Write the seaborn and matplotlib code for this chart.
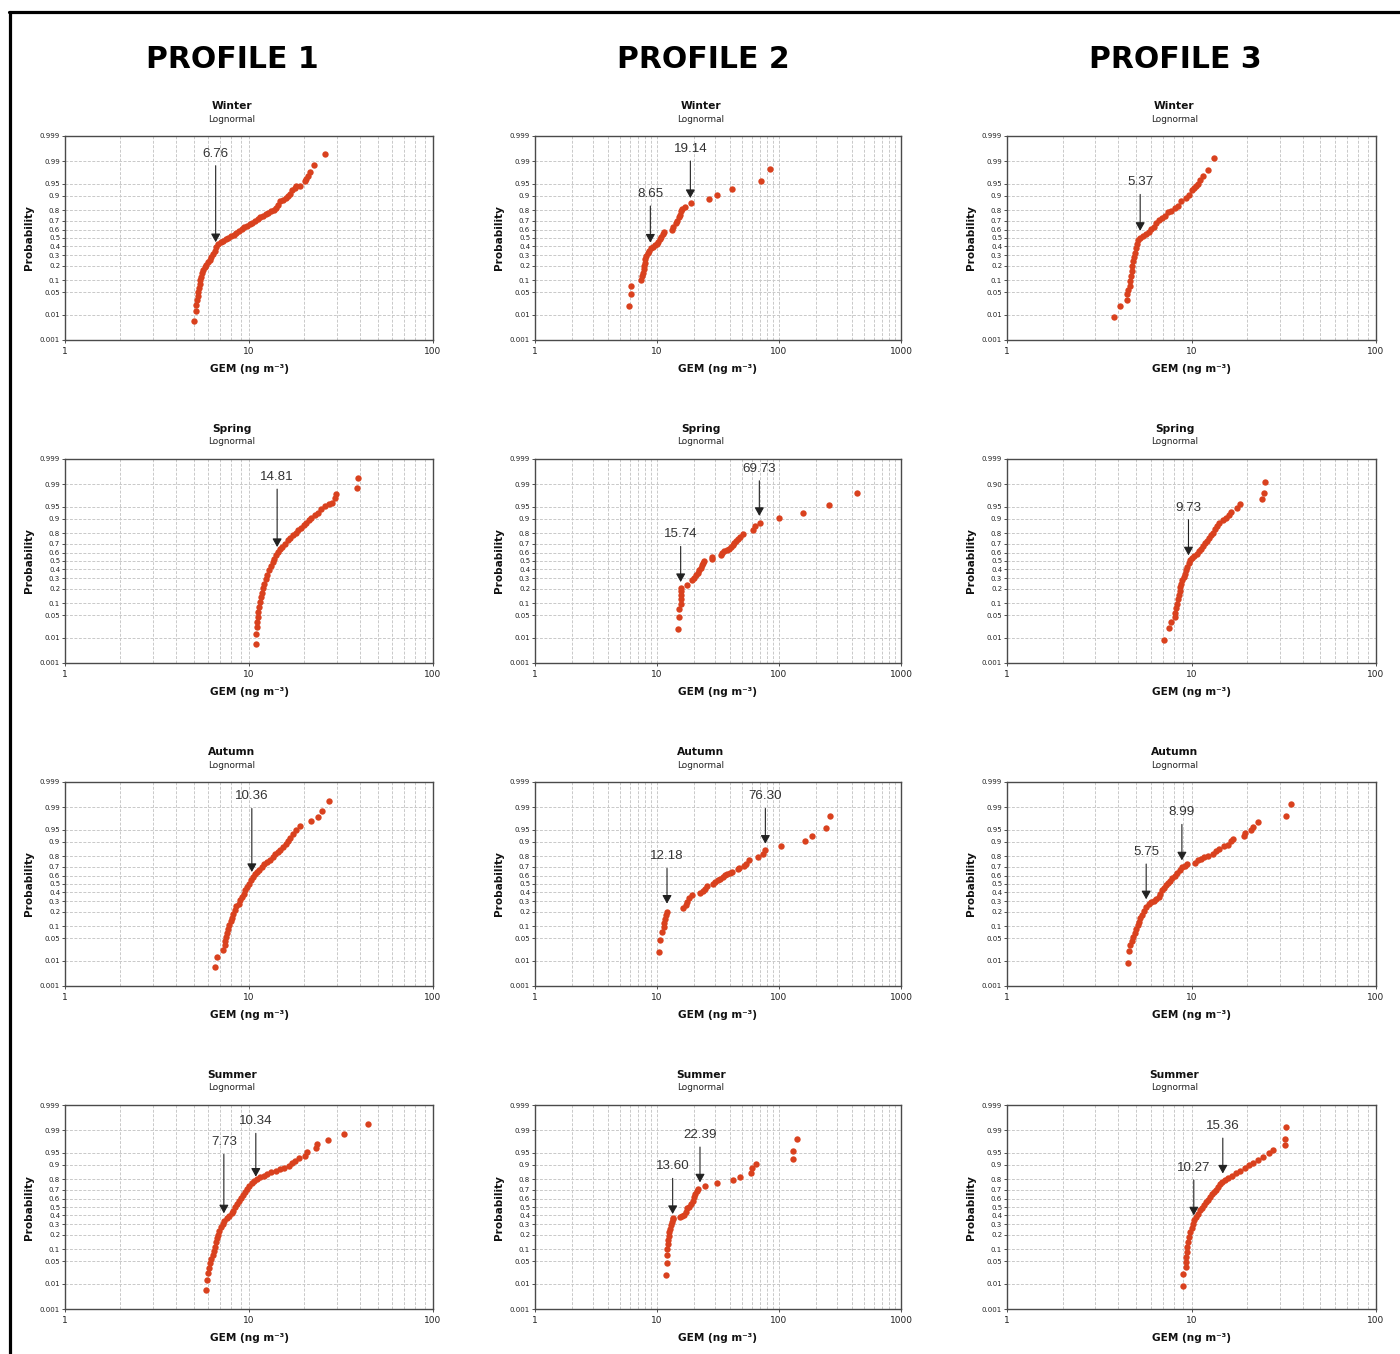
import math
import numpy as np
import pandas as pd
import matplotlib
matplotlib.use("Agg")
import matplotlib.pyplot as plt
from matplotlib.lines import Line2D
from matplotlib.ticker import FixedLocator, NullLocator, NullFormatter, FuncFormatter, LogLocator
import seaborn as sns

# ---------------- data (GEM concentration, cumulative probability) ----------------
profiles = ["PROFILE 1", "PROFILE 2", "PROFILE 3"]
seasons = ["Winter", "Spring", "Autumn", "Summer"]
x_max = [100, 1000, 100]

p1_winter_gem = [5.03, 5.14, 5.18, 5.22, 5.27, 5.31, 5.36, 5.40, 5.45, 5.49, 5.56, 5.65, 5.75, 5.87, 5.99, 6.12, 6.25, 6.38, 6.51, 6.65, 6.82, 7.02, 7.23, 7.47, 7.73, 7.99, 8.26, 8.54, 8.83, 9.13, 9.43, 9.75, 10.08, 10.42, 10.78, 11.14, 11.52, 11.91, 12.31, 12.73, 13.16, 13.61, 14.07, 14.43, 14.79, 15.29, 15.81, 16.28, 16.76, 17.18, 17.69, 18.06, 18.99, 20.05, 20.47, 20.90, 21.51, 22.52, 25.73]
p1_winter_prob = [0.006, 0.0136, 0.0218, 0.0303, 0.0406, 0.0523, 0.0653, 0.0823, 0.102, 0.121, 0.143, 0.167, 0.188, 0.211, 0.232, 0.254, 0.281, 0.316, 0.352, 0.390, 0.422, 0.446, 0.462, 0.482, 0.502, 0.526, 0.542, 0.558, 0.582, 0.610, 0.629, 0.644, 0.659, 0.677, 0.702, 0.719, 0.736, 0.749, 0.762, 0.774, 0.789, 0.803, 0.820, 0.838, 0.868, 0.877, 0.888, 0.896, 0.910, 0.925, 0.936, 0.941, 0.944, 0.958, 0.964, 0.969, 0.978, 0.987, 0.9943]
p1_winter_callouts = [("6.76", 6.59, 0.45, 0.9947)]

p2_winter_gem = [5.89, 6.12, 6.16, 7.44, 7.58, 7.68, 7.78, 7.87, 7.92, 8.02, 8.18, 8.39, 8.60, 8.88, 9.21, 9.63, 9.94, 10.25, 10.58, 10.85, 11.13, 11.41, 13.19, 13.61, 14.31, 14.68, 15.05, 15.44, 15.83, 16.13, 16.86, 18.88, 26.69, 31.22, 41.45, 71.2, 83.8]
p2_winter_prob = [0.0194, 0.0455, 0.0726, 0.0996, 0.125, 0.147, 0.171, 0.198, 0.228, 0.259, 0.294, 0.322, 0.348, 0.378, 0.398, 0.418, 0.433, 0.457, 0.486, 0.514, 0.547, 0.567, 0.594, 0.626, 0.671, 0.692, 0.734, 0.760, 0.790, 0.807, 0.824, 0.853, 0.880, 0.906, 0.930, 0.957, 0.982]
p2_winter_callouts = [("8.65", 8.82, 0.445, 0.909), ("19.14", 18.77, 0.887, 0.9965)]

p3_winter_gem = [3.81, 4.09, 4.45, 4.48, 4.54, 4.62, 4.66, 4.69, 4.73, 4.77, 4.81, 4.85, 4.91, 4.98, 5.06, 5.14, 5.27, 5.45, 5.68, 5.87, 6.05, 6.23, 6.44, 6.66, 6.88, 7.14, 7.44, 7.76, 8.09, 8.43, 8.76, 9.36, 9.75, 10.08, 10.29, 10.60, 10.87, 11.14, 11.52, 12.26, 13.32]
p3_winter_prob = [0.0082, 0.0204, 0.0312, 0.0435, 0.0560, 0.0726, 0.0960, 0.125, 0.160, 0.198, 0.244, 0.287, 0.329, 0.386, 0.433, 0.474, 0.506, 0.530, 0.547, 0.578, 0.606, 0.633, 0.671, 0.706, 0.727, 0.750, 0.781, 0.796, 0.818, 0.836, 0.867, 0.887, 0.906, 0.925, 0.935, 0.944, 0.949, 0.961, 0.969, 0.9806, 0.9923]
p3_winter_callouts = [("5.37", 5.27, 0.586, 0.954)]

p1_spring_gem = [10.89, 10.98, 11.07, 11.12, 11.17, 11.26, 11.36, 11.45, 11.60, 11.74, 11.94, 12.14, 12.35, 12.60, 12.87, 13.14, 13.42, 13.70, 13.99, 14.34, 14.70, 15.20, 15.72, 16.32, 16.80, 17.37, 17.96, 18.57, 19.28, 19.85, 20.52, 21.22, 21.85, 22.79, 23.75, 24.76, 25.81, 27.25, 28.41, 29.25, 29.87, 38.67, 38.99]
p1_spring_prob = [0.0060, 0.0135, 0.0222, 0.0323, 0.0448, 0.0611, 0.0817, 0.107, 0.138, 0.169, 0.207, 0.246, 0.289, 0.339, 0.389, 0.440, 0.488, 0.528, 0.568, 0.608, 0.638, 0.664, 0.700, 0.734, 0.757, 0.782, 0.805, 0.824, 0.841, 0.860, 0.877, 0.891, 0.904, 0.917, 0.929, 0.941, 0.952, 0.959, 0.961, 0.971, 0.979, 0.9865, 0.9940]
p1_spring_callouts = [("14.81", 14.22, 0.664, 0.9945)]

p2_spring_gem = [14.77, 15.05, 15.24, 15.63, 15.73, 15.83, 15.83, 15.83, 17.51, 19.24, 20.11, 20.87, 21.54, 22.10, 22.80, 23.53, 23.98, 24.43, 28.06, 28.42, 33.26, 34.32, 35.42, 37.24, 39.16, 40.44, 41.71, 43.05, 44.42, 45.84, 47.90, 50.37, 61.6, 63.97, 69.4, 100.6, 156.3, 257.0, 436.0]
p2_spring_prob = [0.0197, 0.0458, 0.0744, 0.098, 0.123, 0.149, 0.179, 0.207, 0.237, 0.279, 0.303, 0.332, 0.362, 0.389, 0.416, 0.448, 0.480, 0.496, 0.520, 0.544, 0.568, 0.596, 0.615, 0.630, 0.646, 0.668, 0.690, 0.711, 0.731, 0.751, 0.770, 0.793, 0.824, 0.853, 0.877, 0.904, 0.929, 0.956, 0.981]
p2_spring_callouts = [("15.74", 15.63, 0.262, 0.79), ("69.73", 69.0, 0.914, 0.9974)]

p3_spring_gem = [7.08, 7.54, 7.73, 8.12, 8.16, 8.23, 8.33, 8.43, 8.54, 8.61, 8.68, 8.79, 8.90, 9.05, 9.20, 9.36, 9.51, 9.67, 9.84, 10.08, 10.38, 10.69, 10.96, 11.23, 11.52, 11.81, 12.11, 12.41, 12.73, 13.05, 13.38, 13.72, 14.06, 14.78, 15.41, 16.06, 16.47, 17.60, 18.35, 24.04, 24.65, 24.96]
p3_spring_prob = [0.0083, 0.0212, 0.0323, 0.0439, 0.0587, 0.0772, 0.098, 0.123, 0.149, 0.179, 0.212, 0.246, 0.279, 0.314, 0.350, 0.389, 0.428, 0.476, 0.508, 0.536, 0.560, 0.588, 0.615, 0.646, 0.675, 0.704, 0.731, 0.757, 0.782, 0.805, 0.831, 0.856, 0.873, 0.891, 0.904, 0.917, 0.931, 0.946, 0.958, 0.969, 0.980, 0.9919]
p3_spring_callouts = [("9.73", 9.63, 0.568, 0.947)]

p1_autumn_gem = [6.50, 6.69, 7.24, 7.36, 7.42, 7.52, 7.61, 7.71, 7.80, 7.94, 8.07, 8.20, 8.38, 8.55, 8.77, 8.99, 9.18, 9.37, 9.57, 9.77, 10.02, 10.27, 10.53, 10.80, 11.07, 11.36, 11.74, 12.14, 12.55, 12.98, 13.42, 13.87, 14.34, 14.83, 15.33, 15.85, 16.39, 16.80, 17.37, 18.11, 18.88, 21.66, 23.75, 24.86, 27.13]
p1_autumn_prob = [0.0060, 0.0135, 0.0222, 0.0315, 0.0421, 0.0541, 0.0688, 0.0863, 0.105, 0.129, 0.154, 0.184, 0.218, 0.252, 0.276, 0.310, 0.347, 0.385, 0.424, 0.464, 0.504, 0.544, 0.584, 0.615, 0.642, 0.668, 0.697, 0.724, 0.748, 0.770, 0.793, 0.816, 0.834, 0.851, 0.869, 0.885, 0.904, 0.920, 0.936, 0.950, 0.960, 0.971, 0.979, 0.9865, 0.9940]
p1_autumn_callouts = [("10.36", 10.36, 0.642, 0.996)]

p2_autumn_gem = [10.45, 10.58, 10.92, 11.34, 11.48, 11.70, 11.85, 12.08, 16.44, 17.18, 17.73, 18.41, 19.48, 22.51, 23.68, 24.59, 25.53, 28.95, 30.07, 31.62, 32.84, 34.54, 36.09, 37.74, 39.67, 41.45, 46.42, 47.31, 51.97, 53.3, 57.1, 67.7, 73.5, 76.3, 103.8, 164.4, 186.4, 242.8, 260.2]
p2_autumn_prob = [0.0192, 0.0439, 0.0715, 0.0963, 0.119, 0.147, 0.174, 0.201, 0.231, 0.262, 0.296, 0.332, 0.366, 0.392, 0.416, 0.440, 0.472, 0.504, 0.524, 0.544, 0.564, 0.584, 0.604, 0.623, 0.634, 0.638, 0.679, 0.690, 0.711, 0.731, 0.770, 0.793, 0.821, 0.846, 0.873, 0.902, 0.927, 0.954, 0.980]
p2_autumn_callouts = [("12.18", 12.08, 0.276, 0.799), ("76.30", 77.3, 0.889, 0.996)]

p3_autumn_gem = [4.54, 4.60, 4.66, 4.73, 4.81, 4.91, 5.02, 5.12, 5.19, 5.27, 5.38, 5.52, 5.68, 5.87, 6.07, 6.28, 6.44, 6.63, 6.77, 6.94, 7.11, 7.29, 7.47, 7.66, 7.86, 8.09, 8.33, 8.61, 8.87, 9.17, 9.43, 10.42, 10.82, 11.28, 11.76, 12.26, 13.05, 13.60, 14.18, 14.91, 15.73, 16.40, 16.75, 19.36, 19.53, 21.04, 21.48, 22.87, 32.69, 34.65]
p3_autumn_prob = [0.0084, 0.0209, 0.0319, 0.0417, 0.0549, 0.0698, 0.0844, 0.107, 0.127, 0.149, 0.174, 0.207, 0.240, 0.270, 0.290, 0.304, 0.322, 0.352, 0.382, 0.422, 0.453, 0.486, 0.510, 0.534, 0.567, 0.598, 0.629, 0.667, 0.692, 0.710, 0.724, 0.737, 0.763, 0.778, 0.793, 0.804, 0.815, 0.839, 0.856, 0.873, 0.884, 0.902, 0.914, 0.926, 0.939, 0.948, 0.958, 0.970, 0.9806, 0.9925]
p3_autumn_callouts = [("5.75", 5.68, 0.322, 0.834), ("8.99", 8.87, 0.763, 0.985)]

p1_summer_gem = [5.83, 5.88, 5.95, 6.03, 6.13, 6.23, 6.34, 6.42, 6.50, 6.58, 6.66, 6.77, 6.89, 7.03, 7.18, 7.33, 7.55, 7.80, 8.04, 8.20, 8.41, 8.62, 8.84, 9.07, 9.30, 9.53, 9.77, 10.02, 10.36, 10.71, 11.07, 11.54, 12.04, 12.55, 13.25, 13.99, 14.70, 15.46, 16.52, 17.09, 17.74, 18.73, 20.10, 20.70, 23.26, 23.55, 26.91, 32.73, 44.56]
p1_summer_prob = [0.0060, 0.0135, 0.0222, 0.0323, 0.0439, 0.0575, 0.0744, 0.0929, 0.115, 0.142, 0.174, 0.201, 0.237, 0.269, 0.303, 0.339, 0.370, 0.396, 0.424, 0.456, 0.496, 0.536, 0.576, 0.608, 0.642, 0.672, 0.707, 0.741, 0.763, 0.782, 0.799, 0.816, 0.829, 0.841, 0.853, 0.865, 0.873, 0.881, 0.893, 0.907, 0.920, 0.931, 0.940, 0.951, 0.963, 0.971, 0.979, 0.9865, 0.9940]
p1_summer_callouts = [("7.73", 7.30, 0.424, 0.975), ("10.34", 10.89, 0.821, 0.9953)]

p2_summer_gem = [11.93, 12.00, 12.08, 12.15, 12.23, 12.39, 12.46, 12.62, 12.86, 13.02, 13.27, 13.44, 13.61, 15.44, 16.03, 16.64, 17.18, 17.73, 18.41, 19.11, 19.60, 20.11, 20.62, 21.14, 21.83, 24.74, 30.84, 42.24, 48.21, 58.6, 59.7, 65.2, 129.4, 131.1, 139.6]
p2_summer_prob = [0.0197, 0.0448, 0.0729, 0.101, 0.131, 0.159, 0.190, 0.221, 0.256, 0.289, 0.321, 0.354, 0.370, 0.377, 0.389, 0.408, 0.436, 0.484, 0.504, 0.536, 0.576, 0.615, 0.653, 0.683, 0.707, 0.738, 0.770, 0.793, 0.821, 0.851, 0.879, 0.904, 0.927, 0.954, 0.981]
p2_summer_callouts = [("13.60", 13.44, 0.416, 0.891), ("22.39", 22.51, 0.772, 0.9854)]

p3_summer_gem = [9.01, 9.01, 9.28, 9.32, 9.36, 9.40, 9.47, 9.55, 9.67, 9.84, 10.00, 10.17, 10.38, 10.60, 10.87, 11.14, 11.42, 11.71, 12.01, 12.31, 12.62, 12.94, 13.27, 13.60, 13.95, 14.30, 14.66, 15.16, 15.80, 16.61, 17.46, 18.35, 19.61, 20.61, 21.66, 22.87, 24.34, 26.23, 27.80, 32.02, 32.15, 32.55]
p3_summer_prob = [0.0086, 0.0209, 0.0341, 0.0473, 0.0643, 0.0857, 0.112, 0.144, 0.181, 0.224, 0.265, 0.306, 0.343, 0.381, 0.420, 0.460, 0.492, 0.524, 0.556, 0.588, 0.619, 0.650, 0.676, 0.701, 0.728, 0.755, 0.776, 0.791, 0.811, 0.830, 0.849, 0.863, 0.884, 0.897, 0.909, 0.922, 0.936, 0.948, 0.959, 0.970, 0.9806, 0.9923]
p3_summer_callouts = [("10.27", 10.29, 0.40, 0.882), ("15.36", 14.78, 0.845, 0.9929)]

prob_ticks = [0.001, 0.01, 0.05, 0.1, 0.2, 0.3, 0.4, 0.5, 0.6, 0.7, 0.8, 0.9, 0.95, 0.99, 0.999]
prob_tick_labels = ["0.001", "0.01", "0.05", "0.1", "0.2", "0.3", "0.4", "0.5", "0.6", "0.7", "0.8", "0.9", "0.95", "0.99", "0.999"]
# the Profile 3 spring panel carries a "0.90" label at the 0.99 line in the original
prob_tick_labels_p3_spring = ["0.001", "0.01", "0.05", "0.1", "0.2", "0.3", "0.4", "0.5", "0.6", "0.7", "0.8", "0.9", "0.95", "0.90", "0.999"]

panels = [
    [(p1_winter_gem, p1_winter_prob, p1_winter_callouts, prob_tick_labels),
     (p2_winter_gem, p2_winter_prob, p2_winter_callouts, prob_tick_labels),
     (p3_winter_gem, p3_winter_prob, p3_winter_callouts, prob_tick_labels)],
    [(p1_spring_gem, p1_spring_prob, p1_spring_callouts, prob_tick_labels),
     (p2_spring_gem, p2_spring_prob, p2_spring_callouts, prob_tick_labels),
     (p3_spring_gem, p3_spring_prob, p3_spring_callouts, prob_tick_labels_p3_spring)],
    [(p1_autumn_gem, p1_autumn_prob, p1_autumn_callouts, prob_tick_labels),
     (p2_autumn_gem, p2_autumn_prob, p2_autumn_callouts, prob_tick_labels),
     (p3_autumn_gem, p3_autumn_prob, p3_autumn_callouts, prob_tick_labels)],
    [(p1_summer_gem, p1_summer_prob, p1_summer_callouts, prob_tick_labels),
     (p2_summer_gem, p2_summer_prob, p2_summer_callouts, prob_tick_labels),
     (p3_summer_gem, p3_summer_prob, p3_summer_callouts, prob_tick_labels)],
]

# ---------------- normal-probability axis scale ----------------
_A = [-3.969683028665376e+01, 2.209460984245205e+02, -2.759285104469687e+02,
      1.383577518672690e+02, -3.066479806614716e+01, 2.506628277459239e+00]
_B = [-5.447609879822406e+01, 1.615858368580409e+02, -1.556989798598866e+02,
      6.680131188771972e+01, -1.328068155288572e+01]
_C = [-7.784894002430293e-03, -3.223964580411365e-01, -2.400758277161838e+00,
      -2.549732539343734e+00, 4.374664141464968e+00, 2.938163982698783e+00]
_D = [7.784695709041462e-03, 3.224671290700398e-01, 2.445134137142996e+00,
      3.754408661907416e+00]


def _tail(q):
    num = ((((_C[0] * q + _C[1]) * q + _C[2]) * q + _C[3]) * q + _C[4]) * q + _C[5]
    den = (((_D[0] * q + _D[1]) * q + _D[2]) * q + _D[3]) * q + 1.0
    return num / den


def probit(p):
    p = np.clip(np.asarray(p, dtype=float), 1e-12, 1 - 1e-12)
    lo = _tail(np.sqrt(-2.0 * np.log(p)))
    hi = -_tail(np.sqrt(-2.0 * np.log1p(-p)))
    q = p - 0.5
    r = q * q
    num = (((((_A[0] * r + _A[1]) * r + _A[2]) * r + _A[3]) * r + _A[4]) * r + _A[5]) * q
    den = ((((_B[0] * r + _B[1]) * r + _B[2]) * r + _B[3]) * r + _B[4]) * r + 1.0
    mid = num / den
    return np.where(p < 0.02425, lo, np.where(p > 1 - 0.02425, hi, mid))


_erf = np.vectorize(math.erf, otypes=[float])


def ncdf(z):
    z = np.asarray(z, dtype=float)
    return 0.5 * (1.0 + _erf(z / math.sqrt(2.0)))


# ---------------- figure ----------------
W, H = 1400, 1354
sns.set_theme(style="white")
plt.rcParams["font.family"] = ["DejaVu Sans"]

fig = plt.figure(figsize=(W / 100, H / 100), dpi=100)
fig.patch.set_facecolor("white")

col_left = [65, 535, 1007]
col_right = [433, 901, 1376]
row_top = [136, 459, 782, 1105]
AX_H = 204
header_x = [232, 703, 1175]
DOT = "#d9411e"
GRID = "#c9c9c9"

for c, name in enumerate(profiles):
    fig.text(header_x[c] / W, 1 - 60 / H, name, ha="center", va="center",
             fontsize=21.5, fontweight="bold", color="black")

for r, season in enumerate(seasons):
    for c in range(3):
        gem, prob, callouts, ylabels = panels[r][c]
        n = min(len(gem), len(prob))
        df = pd.DataFrame({"GEM": gem[:n], "Probability": prob[:n]})
        left, right, top = col_left[c], col_right[c], row_top[r]
        wpx = right - left
        ax = fig.add_axes([left / W, 1 - (top + AX_H) / H, wpx / W, AX_H / H])
        ax.set_xscale("log")
        ax.set_yscale("function", functions=(probit, ncdf))
        sns.scatterplot(data=df, x="GEM", y="Probability", ax=ax, color=DOT, s=21,
                        linewidth=0, legend=False, zorder=3)
        ax.set_xlim(1, x_max[c])
        ax.set_ylim(0.001, 0.999)

        ax.yaxis.set_major_locator(FixedLocator(prob_ticks))
        ax.set_yticklabels(ylabels)
        ax.yaxis.set_minor_locator(NullLocator())
        ax.xaxis.set_major_locator(LogLocator(base=10, numticks=10))
        ax.xaxis.set_minor_locator(LogLocator(base=10, subs=np.arange(2, 10), numticks=40))
        ax.xaxis.set_major_formatter(FuncFormatter(lambda v, _: f"{v:g}"))
        ax.xaxis.set_minor_formatter(NullFormatter())

        ax.set_axisbelow(True)
        ax.grid(True, axis="x", which="both", color=GRID, lw=0.7, ls=(0, (3, 1.6)))
        ax.grid(True, axis="y", which="major", color=GRID, lw=0.7, ls=(0, (3, 1.6)))

        ax.tick_params(axis="y", which="major", left=True, labelsize=5, length=2.5,
                       width=0.6, pad=1, colors="#333333", labelcolor="#222222")
        ax.tick_params(axis="x", which="major", bottom=True, labelsize=6.5, length=2,
                       width=0.6, pad=3, colors="#333333", labelcolor="#222222")
        ax.tick_params(axis="x", which="minor", bottom=False, length=0)
        for s in ax.spines.values():
            s.set_color("#4a4a4a")
            s.set_linewidth(1.0)

        ax.set_xlabel("GEM (ng m\u207b\u00b3)", fontsize=7.6, fontweight="bold", color="#111111")
        ax.xaxis.set_label_coords(0.5, -29 / AX_H)
        ax.xaxis.label.set_va("center")
        ax.set_ylabel("Probability", fontsize=7.6, fontweight="bold", color="#111111")
        ax.yaxis.set_label_coords(-36 / wpx, 0.5)
        ax.yaxis.label.set_va("center")

        for label, x_arrow, p_tip, p_text in callouts:
            ax.annotate(label, xy=(x_arrow, p_tip), xytext=(x_arrow, p_text),
                        ha="center", va="center", fontsize=9.6,
                        family=["Liberation Sans", "DejaVu Sans"], color="#333333",
                        arrowprops=dict(arrowstyle="-|>,head_length=0.5,head_width=0.28",
                                        mutation_scale=10, color="#222222", lw=0.8,
                                        shrinkA=2, shrinkB=0),
                        zorder=5)

        cx = (left + right) / 2 - 17
        fig.text(cx / W, 1 - (top - 30) / H, season, ha="center", va="center",
                 fontsize=7.7, fontweight="bold", color="#111111")
        fig.text(cx / W, 1 - (top - 17) / H, "Lognormal", ha="center", va="center",
                 fontsize=6.4, color="#222222")

# outer frame lines of the original figure
fig.add_artist(Line2D([9 / W, 1.0], [1 - 12 / H, 1 - 12 / H], transform=fig.transFigure,
                      color="black", lw=2.3))
fig.add_artist(Line2D([10 / W, 10 / W], [1 - 12 / H, 0.0], transform=fig.transFigure,
                      color="black", lw=2.3))

fig.savefig("out.png", dpi=100, facecolor="white")
